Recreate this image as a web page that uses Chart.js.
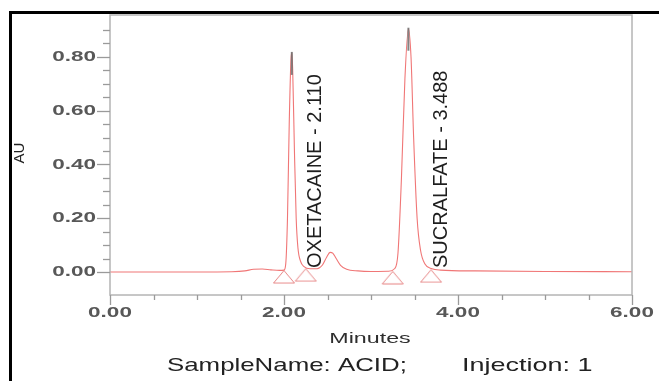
<!DOCTYPE html>
<html>
<head>
<meta charset="utf-8">
<script src="https://cdn.jsdelivr.net/npm/chart.js@4.4.1/dist/chart.umd.min.js"></script>
<style>
  body { margin: 0; background: #fff; }
  #wrap { width: 659px; height: 381px; position: relative; }
</style>
</head>
<body>
<div id="wrap"><canvas id="chrom"></canvas></div>
<script>
  // chromatogram trace (minutes / AU)
  var times = [0.00, 0.50, 1.00, 1.40, 1.55, 1.65, 1.75, 1.85, 1.95, 2.00,
    2.02, 2.04, 2.06, 2.08, 2.09, 2.10, 2.12, 2.14, 2.16, 2.19,
    2.23, 2.30, 2.38, 2.44, 2.49, 2.53, 2.56, 2.60, 2.65, 2.72,
    2.85, 3.00, 3.20, 3.27, 3.31, 3.35, 3.39, 3.43, 3.46, 3.49,
    3.53, 3.57, 3.62, 3.70, 3.80, 4.20, 5.00, 6.00];
  var au = [0.000, 0.000, 0.000, 0.001, 0.004, 0.010, 0.011, 0.008, 0.006, 0.007,
    0.030, 0.200, 0.550, 0.790, 0.815, 0.750, 0.450, 0.200, 0.090, 0.040,
    0.020, 0.012, 0.012, 0.025, 0.055, 0.073, 0.070, 0.050, 0.025, 0.010,
    0.004, 0.002, 0.003, 0.012, 0.070, 0.350, 0.720, 0.905, 0.800, 0.500,
    0.200, 0.080, 0.030, 0.012, 0.007, 0.004, 0.002, 0.001];

  // peak integration markers (start / end of each peak)
  var markerTimes = [2.00, 2.25, 3.25, 3.69];
  var markerAU = [0.007, 0.014, 0.004, 0.010];

  var peakNames = ["OXETACAINE", "SUCRALFATE"];
  var peakTimes = [2.110, 3.488];

  var xTickLabels = ["0.00", "2.00", "4.00", "6.00"];
  var yTickLabels = ["0.00", "0.20", "0.40", "0.60", "0.80"];
  var xTitle = "Minutes";
  var yTitle = "AU";
  var footer = ["SampleName: ACID;", "Injection: 1"];

  var lineColor = "rgb(240,118,118)";

  // open triangle used for the baseline markers (apex at the point)
  var tri = document.createElement("canvas");
  tri.width = 24; tri.height = 28;
  var tc = tri.getContext("2d");
  tc.strokeStyle = "rgba(228,120,120,0.9)";
  tc.lineWidth = 1;
  tc.beginPath();
  tc.moveTo(12, 14.5);
  tc.lineTo(1.5, 27);
  tc.lineTo(22.5, 27);
  tc.closePath();
  tc.stroke();

  // draw text stretched horizontally
  function wideText(ctx, txt, x, y, align, font, color, sx) {
    ctx.save();
    ctx.font = font;
    ctx.fillStyle = color;
    ctx.textAlign = "left";
    ctx.textBaseline = "middle";
    var w = ctx.measureText(txt).width * sx;
    var x0 = align === "right" ? x - w : (align === "center" ? x - w / 2 : x);
    ctx.translate(x0, y);
    ctx.scale(sx, 1);
    ctx.fillText(txt, 0, 0);
    ctx.restore();
  }

  function isMult(v, step) {
    var r = v / step;
    return Math.abs(r - Math.round(r)) < 1e-6;
  }

  var decor = {
    id: "decor",
    afterDraw: function (chart) {
      var ctx = chart.ctx;
      var a = chart.chartArea;
      var xs = chart.scales.x, ys = chart.scales.y;
      var tickFont = 'bold 15px "Liberation Sans", Arial, sans-serif';

      // plot box
      ctx.save();
      ctx.strokeStyle = "#b4b4b4";
      ctx.lineWidth = 1.5;
      ctx.strokeRect(a.left, a.top, a.right - a.left, a.bottom - a.top);

      // tick marks
      ctx.strokeStyle = "#9a9a9a";
      ctx.lineWidth = 1.3;
      ys.ticks.forEach(function (t) {
        if (!isMult(t.value, 0.05)) return;
        var py = Math.round(ys.getPixelForValue(t.value)) + 0.5;
        var len = isMult(t.value, 0.2) ? 13 : 7;
        ctx.beginPath(); ctx.moveTo(a.left - len, py); ctx.lineTo(a.left, py); ctx.stroke();
      });
      xs.ticks.forEach(function (t) {
        if (!isMult(t.value, 0.5)) return;
        var px = Math.round(xs.getPixelForValue(t.value)) + 0.5;
        var len = isMult(t.value, 2) ? 10 : 5;
        ctx.beginPath(); ctx.moveTo(px, a.bottom); ctx.lineTo(px, a.bottom + len); ctx.stroke();
      });
      ctx.restore();

      // tick labels
      yTickLabels.forEach(function (l) {
        wideText(ctx, l, 96, ys.getPixelForValue(parseFloat(l)), "right", tickFont, "#585858", 1.5);
      });
      xTickLabels.forEach(function (l) {
        wideText(ctx, l, xs.getPixelForValue(parseFloat(l)), 313, "center", tickFont, "#585858", 1.5);
      });

      // axis titles + footer
      wideText(ctx, xTitle, 370, 339, "center", '15px "Liberation Sans", Arial, sans-serif', "#2e2e2e", 1.55);
      wideText(ctx, footer[0], 167, 366, "left", '19px "Liberation Sans", Arial, sans-serif', "#222", 1.36);
      wideText(ctx, footer[1], 462, 366, "left", '19px "Liberation Sans", Arial, sans-serif', "#222", 1.42);

      ctx.save();
      ctx.translate(20, 153);
      ctx.rotate(-Math.PI / 2);
      ctx.font = '15px "Liberation Sans", Arial, sans-serif';
      ctx.fillStyle = "#222";
      ctx.textAlign = "center";
      ctx.textBaseline = "middle";
      ctx.fillText(yTitle, 0, 0);
      ctx.restore();

      // gray apex of each peak + rotated peak labels
      peakNames.forEach(function (name, i) {
        var best = -1;
        for (var k = 0; k < times.length; k++) {
          if (Math.abs(times[k] - peakTimes[i]) < 0.12 && (best < 0 || au[k] > au[best])) best = k;
        }
        var px = xs.getPixelForValue(times[best]);
        var py = ys.getPixelForValue(au[best]);
        ctx.save();
        ctx.strokeStyle = "rgba(110,110,110,0.85)";
        ctx.lineWidth = 2;
        ctx.beginPath(); ctx.moveTo(px, py - 1); ctx.lineTo(px, py + 22); ctx.stroke();
        ctx.restore();

        var lx = xs.getPixelForValue(markerTimes[2 * i + 1]) + 10;
        var ly = ys.getPixelForValue(0) - 4;
        ctx.save();
        ctx.translate(lx, ly);
        ctx.rotate(-Math.PI / 2);
        ctx.font = '20px "Liberation Sans", Arial, sans-serif';
        ctx.fillStyle = "#1e1e1e";
        ctx.textAlign = "left";
        ctx.textBaseline = "middle";
        ctx.fillText(name + " - " + peakTimes[i].toFixed(3), 0, 0);
        ctx.restore();
      });

      // black outer frame (left + top)
      ctx.save();
      ctx.fillStyle = "#000";
      ctx.fillRect(9, 11, 3, 381 - 11);
      ctx.fillRect(9, 11, 659 - 9, 3);
      ctx.restore();
    }
  };

  var ctx1 = document.getElementById("chrom").getContext("2d");
  var chromChart = new Chart(ctx1, {
    type: "line",
    data: {
      datasets: [{
        label: "trace",
        data: times.map(function (t, i) { return { x: t, y: au[i] }; }),
        borderColor: lineColor,
        borderWidth: 1.1,
        pointRadius: 0,
        cubicInterpolationMode: "monotone",
        fill: false
      },
      {
        label: "markers",
        data: markerTimes.map(function (t, i) { return { x: t, y: markerAU[i] }; }),
        showLine: false,
        pointStyle: tri,
        pointRadius: 12
      }]
    },
    plugins: [decor],
    options: {
      responsive: true,
      maintainAspectRatio: false,
      animation: false,
      layout: { padding: { left: 0, top: 15, right: 27, bottom: 0 } },
      plugins: { legend: { display: false }, tooltip: { enabled: false } },
      scales: {
        x: {
          type: "linear",
          min: 0,
          max: 6,
          ticks: { stepSize: 0.5, display: false },
          grid: { display: false },
          border: { display: false },
          afterFit: function (s) { s.height = 86; }
        },
        y: {
          min: -0.0856,
          max: 0.956,
          ticks: { stepSize: 0.05, display: false },
          grid: { display: false },
          border: { display: false },
          afterFit: function (s) { s.width = 110; }
        }
      }
    }
  });
</script>
</body>
</html>
